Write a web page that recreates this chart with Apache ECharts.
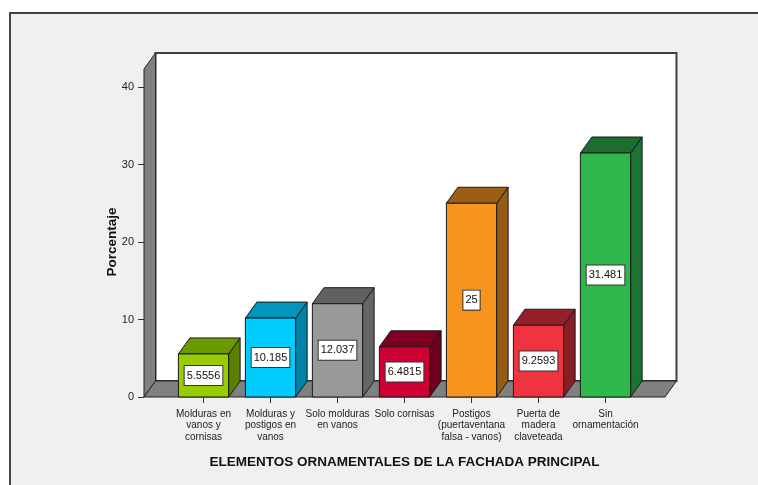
<!DOCTYPE html>
<html>
<head>
<meta charset="utf-8">
<script src="https://cdn.jsdelivr.net/npm/echarts@6/dist/echarts.min.js"></script>
<style>
html, body { margin: 0; padding: 0; background: #ffffff; }
#chart { width: 758px; height: 485px; }
</style>
</head>
<body>
<div id="chart"></div>
<script>
var categories = [
    'Molduras en\nvanos y\ncornisas',
    'Molduras y\npostigos en\nvanos',
    'Solo molduras\nen vanos',
    'Solo cornisas',
    'Postigos\n(puertaventana\nfalsa - vanos)',
    'Puerta de\nmadera\nclaveteada',
    'Sin\nornamentación'
];
var values = [5.5556, 10.185, 12.037, 6.4815, 25, 9.2593, 31.481];
var yTicks = [0, 10, 20, 30, 40];
var valueLabels = ['5.5556', '10.185', '12.037', '6.4815', '25', '9.2593', '31.481'];

var frontColors = ['#99cc00', '#00ccff', '#999999', '#cc0033', '#f7941d', '#ef3340', '#2eb84b'];
var topColors = ['#6a9900', '#0096bb', '#616161', '#7d0022', '#9a5e14', '#96202a', '#1e6d30'];
var sideColors = ['#5a8000', '#0083a6', '#666666', '#6c001d', '#965b14', '#8a1e25', '#1f7332'];

var FONT = "'Liberation Sans', Arial, sans-serif";
var DX = 11.5, DY = 16;

var chart = echarts.init(document.getElementById('chart'), null, { renderer: 'canvas' });

var renderFrame = function (params, api) {
    var cs = params.coordSys;
    var zero = api.coord([0, 0]);
    var floorY = zero[1];
    var ext = 26;
    var L = cs.x - ext, R = cs.x + cs.width + ext;
    var T = cs.y - 18;
    return {
        type: 'group',
        children: [
            {
                type: 'rect',
                shape: { x: L + DX, y: T - DY, width: R - L, height: floorY - T },
                style: { fill: '#ffffff', stroke: '#404040', lineWidth: 2 }
            },
            {
                type: 'polygon',
                shape: { points: [[L, floorY], [L, T], [L + DX, T - DY], [L + DX, floorY - DY]] },
                style: { fill: '#808080', stroke: '#222222', lineWidth: 1 }
            },
            {
                type: 'polygon',
                shape: { points: [[L, floorY], [L + DX, floorY - DY], [R + DX, floorY - DY], [R, floorY]] },
                style: { fill: '#808080', stroke: '#222222', lineWidth: 1 }
            }
        ]
    };
};

var renderBar = function (params, api) {
    var i = params.dataIndex;
    var base = api.coord([api.value(0), 0]);
    var top = api.coord([api.value(0), api.value(1)]);
    var w = api.size([1, 0])[0] * 0.75;
    var x0 = base[0] - w / 2, x1 = base[0] + w / 2;
    var y0 = top[1], y1 = base[1];
    var edge = '#1a1a1a';
    return {
        type: 'group',
        children: [
            {
                type: 'polygon',
                shape: { points: [[x1, y1], [x1, y0], [x1 + DX, y0 - DY], [x1 + DX, y1 - DY]] },
                style: { fill: sideColors[i], stroke: edge, lineWidth: 1 }
            },
            {
                type: 'polygon',
                shape: { points: [[x0, y0], [x0 + DX, y0 - DY], [x1 + DX, y0 - DY], [x1, y0]] },
                style: { fill: topColors[i], stroke: edge, lineWidth: 1 }
            },
            {
                type: 'rect',
                shape: { x: x0, y: y0, width: w, height: y1 - y0 },
                style: { fill: frontColors[i], stroke: edge, lineWidth: 1 }
            },
            {
                type: 'text',
                x: base[0],
                y: (y0 + y1) / 2,
                style: {
                    text: valueLabels[i],
                    align: 'center',
                    verticalAlign: 'middle',
                    fontFamily: FONT,
                    fontSize: 11,
                    fill: '#111111',
                    backgroundColor: '#ffffff',
                    borderColor: '#333333',
                    borderWidth: 1,
                    padding: [4, 2, 4, 2]
                }
            }
        ]
    };
};

var barData = values.map(function (v, i) { return [i, v]; });

option = {
    backgroundColor: '#ffffff',
    animation: false,
    graphic: [
        {
            type: 'rect',
            z: -10,
            shape: { x: 10, y: 13, width: 760, height: 480 },
            style: { fill: '#f0f0f0', stroke: '#444444', lineWidth: 2 }
        }
    ],
    grid: {
        left: 170,
        right: 119,
        top: 87,
        bottom: 88
    },
    xAxis: {
        type: 'category',
        data: categories,
        name: 'ELEMENTOS ORNAMENTALES DE LA FACHADA PRINCIPAL',
        nameLocation: 'middle',
        nameGap: 58,
        nameMoveOverlap: false,
        nameTextStyle: { fontFamily: FONT, fontSize: 13.5, fontWeight: 'bold', color: '#111111' },
        axisLine: { show: false },
        axisTick: { show: true, alignWithLabel: true, length: 6, lineStyle: { color: '#333333' } },
        axisLabel: {
            interval: 0,
            margin: 11,
            fontFamily: FONT,
            fontSize: 10,
            lineHeight: 11.5,
            color: '#222222'
        },
        splitLine: { show: false }
    },
    yAxis: {
        type: 'value',
        min: yTicks[0],
        max: yTicks[yTicks.length - 1],
        interval: yTicks[1] - yTicks[0],
        offset: 26,
        name: 'Porcentaje',
        nameLocation: 'middle',
        nameGap: 25,
        nameMoveOverlap: false,
        nameTextStyle: { fontFamily: FONT, fontSize: 13.5, fontWeight: 'bold', color: '#111111' },
        axisLine: { show: false },
        axisTick: { show: true, length: 6, lineStyle: { color: '#333333' } },
        axisLabel: { margin: 10, fontFamily: FONT, fontSize: 11, color: '#222222' },
        splitLine: { show: false }
    },
    series: [
        {
            type: 'custom',
            name: 'frame',
            renderItem: renderFrame,
            data: [[0, 0]],
            clip: false,
            silent: true,
            z: 1
        },
        {
            type: 'custom',
            name: 'Porcentaje',
            renderItem: renderBar,
            data: barData,
            clip: false,
            z: 2
        }
    ]
};
chart.setOption(option);
</script>
</body>
</html>
